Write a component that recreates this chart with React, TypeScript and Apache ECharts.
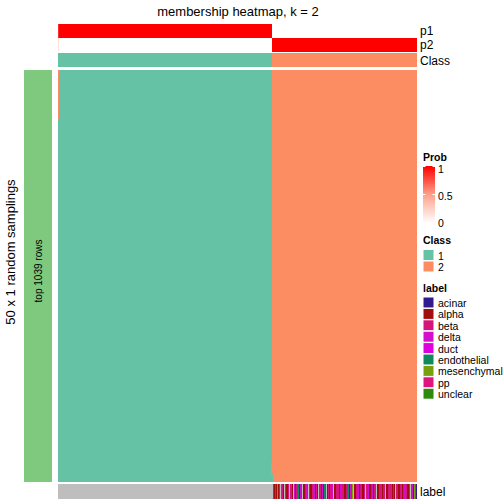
import React, { useEffect, useRef } from "react";
import * as echarts from "echarts";

// ---- data ----
const N_COLS = 359;
const N_ROWS = 1039;
const CLASS_COLORS: Record<number, string> = { 1: "#66C2A5", 2: "#FC8D62" };

// [colStart, colEnd, probability]
const p1Runs = [
  [0, 1, 0.85],
  [1, 214, 1.0],
  [214, 359, 0.0],
];
const p2Runs = [
  [0, 1, 0.15],
  [1, 214, 0.0],
  [214, 359, 1.0],
];
// [colStart, colEnd, class]
const classRuns = [
  [0, 214, 1],
  [214, 359, 2],
];
// [colStart, colEnd, rowStart, rowEnd, class]
const mainBlocks = [
  [0, 214, 0, 1039, 1],
  [214, 359, 0, 1039, 2],
  [0, 1, 0, 126, 2],
  [213, 214, 990, 1020, 2],
  [214, 215, 1016, 1039, 1],
];

const labelNames = ["acinar", "alpha", "beta", "delta", "duct", "endothelial", "mesenchymal", "pp", "unclear"];
const labelColors = ["#311B8C", "#A00E10", "#D4157C", "#D30FCB", "#DF00DF", "#0E8A5E", "#78A00E", "#E0147F", "#2E8A0C"];
const labelCodeMap: Record<string, number> = { a: 0, l: 1, b: 2, d: 3, u: 4, e: 5, m: 6, p: 7, n: 8, g: -1 };
const NA_COLOR = "#BEBEBE";
const labelNACols = 215;
const labelCodes =
  "blblmlbgdblg" +
  "dllbgbplgdlb" +
  "beldbgllbdbg" +
  "bllbddlplgbb" +
  "ldlebglblpbd" +
  "gllbbpldpbbl" +
  "lbbeldbmgllb" +
  "pdlbbllbgbbd" +
  "llbdlbbgllpb" +
  "dlbbgllbdbdl" +
  "blgbbllbnlbd" +
  "pbllbgbdlmna";

const probTicks = ["1", "0.5", "0"];
const classLegend = ["1", "2"];

const FONT = '"Liberation Sans", Arial, Helvetica, sans-serif';

function lerpProb(v: number) {
  return echarts.color.lerp(v, ["#FFFFFF", "#FFA08A", "#FF0000"]);
}

function rectRender(colorFn: (idx: number) => string) {
  return (params: any, api: any) => {
    const x0 = api.value(0), x1 = api.value(1), y0 = api.value(2), y1 = api.value(3);
    const a = api.coord([x0, y0]);
    const b = api.coord([x1, y1]);
    return {
      type: "rect",
      shape: {
        x: Math.min(a[0], b[0]),
        y: Math.min(a[1], b[1]),
        width: Math.abs(b[0] - a[0]),
        height: Math.abs(b[1] - a[1]),
      },
      style: { fill: colorFn(params.dataIndex) },
    };
  };
}

export default function App() {
  const ref = useRef<HTMLDivElement>(null);
  useEffect(() => {
    if (!ref.current) return;
    const chart = echarts.init(ref.current, null, { renderer: "svg" });

    const pData: number[][] = [];
    const pColors: string[] = [];
    p1Runs.forEach((r) => { pData.push([r[0], r[1], 0, 1]); pColors.push(lerpProb(r[2])); });
    p2Runs.forEach((r) => { pData.push([r[0], r[1], 1, 2]); pColors.push(lerpProb(r[2])); });

    const cData = classRuns.map((r) => [r[0], r[1], 0, 1]);
    const cColors = classRuns.map((r) => CLASS_COLORS[r[2]]);

    const mData = mainBlocks.map((r) => [r[0], r[1], r[2], r[3]]);
    const mColors = mainBlocks.map((r) => CLASS_COLORS[r[4]]);

    const lData: number[][] = [[0, labelNACols, 0, 1]];
    const lColors: string[] = [NA_COLOR];
    labelCodes.split("").forEach((c, i) => {
      const code = labelCodeMap[c];
      lData.push([labelNACols + i, labelNACols + i + 1, 0, 1]);
      lColors.push(code < 0 ? NA_COLOR : labelColors[code]);
    });

    const gridDefs = [
      { left: 58, top: 24, width: 359, height: 28, rows: 2, cols: N_COLS },
      { left: 58, top: 53, width: 359, height: 14, rows: 1, cols: N_COLS },
      { left: 58, top: 70, width: 359, height: 412, rows: N_ROWS, cols: N_COLS },
      { left: 58, top: 484, width: 359, height: 15, rows: 1, cols: N_COLS },
      { left: 24, top: 70, width: 28, height: 412, rows: 1, cols: 1 },
    ];

    const graphic: any[] = [];
    const txt = (text: string, x: number, y: number, size: number, opts: any = {}) =>
      graphic.push({
        type: "text",
        x, y,
        z: 100,
        rotation: opts.rotation || 0,
        style: {
          text,
          font: `${opts.bold ? "bold " : ""}${size}px ${FONT}`,
          fill: "#000",
          align: opts.align || "left",
          verticalAlign: "middle",
        },
      });

    txt("membership heatmap, k = 2", 238, 11, 13, { align: "center" });
    txt("p1", 420, 31, 12);
    txt("p2", 420, 45, 12);
    txt("Class", 420, 61, 12);
    txt("label", 420, 492, 12);
    txt("50 x 1 random samplings", 10, 252, 13, { align: "center", rotation: Math.PI / 2 });
    txt("top 1039 rows", 38, 271, 10, { align: "center", rotation: Math.PI / 2 });

    const LS = 10.5;
    // Prob legend
    txt("Prob", 423, 157, LS, { bold: true });
    graphic.push({
      type: "rect",
      z: 100,
      shape: { x: 423, y: 166, width: 12, height: 57 },
      style: {
        fill: new echarts.graphic.LinearGradient(0, 0, 0, 1, [
          { offset: 0, color: "#FF0000" },
          { offset: 0.5, color: "#FFA08A" },
          { offset: 1, color: "#FFFFFF" },
        ]),
      },
    });
    const tickY = [166.5, 194.5, 222.5];
    probTicks.forEach((t, i) => {
      txt(t, 438, tickY[i] + (i === 0 ? 2 : i === 2 ? 0 : 1), LS);
      if (i < 2) {
        graphic.push({ type: "line", z: 101, shape: { x1: 423, y1: tickY[i], x2: 425.5, y2: tickY[i] }, style: { stroke: "#FFFFFF", lineWidth: 1 } });
        graphic.push({ type: "line", z: 101, shape: { x1: 432.5, y1: tickY[i], x2: 435, y2: tickY[i] }, style: { stroke: "#FFFFFF", lineWidth: 1 } });
      }
    });

    // Class legend
    txt("Class", 423, 240, LS, { bold: true });
    classLegend.forEach((c, i) => {
      graphic.push({ type: "rect", z: 100, shape: { x: 423, y: 249.5 + i * 11.5, width: 11, height: 11 }, style: { fill: CLASS_COLORS[i + 1], stroke: "#FFFFFF", lineWidth: 1 } });
      txt(c, 438, 255.5 + i * 11.5, LS);
    });

    // label legend
    txt("label", 423, 288, LS, { bold: true });
    labelNames.forEach((n, i) => {
      const y = 297 + i * 11.4;
      graphic.push({ type: "rect", z: 100, shape: { x: 423, y, width: 11, height: 11 }, style: { fill: labelColors[i], stroke: "#FFFFFF", lineWidth: 1 } });
      txt(n, 438, y + 6, LS);
    });

    const option: any = {
      animation: false,
      backgroundColor: "#FFFFFF",
      grid: gridDefs.map((g) => ({ left: g.left, top: g.top, width: g.width, height: g.height, containLabel: false })),
      xAxis: gridDefs.map((g, i) => ({ type: "value", gridIndex: i, min: 0, max: g.cols, show: false })),
      yAxis: gridDefs.map((g, i) => ({ type: "value", gridIndex: i, min: 0, max: g.rows, inverse: true, show: false })),
      series: [
        { type: "custom", xAxisIndex: 0, yAxisIndex: 0, data: pData, renderItem: rectRender((i) => pColors[i]), silent: true },
        { type: "custom", xAxisIndex: 1, yAxisIndex: 1, data: cData, renderItem: rectRender((i) => cColors[i]), silent: true },
        { type: "custom", xAxisIndex: 2, yAxisIndex: 2, data: mData, renderItem: rectRender((i) => mColors[i]), silent: true },
        { type: "custom", xAxisIndex: 3, yAxisIndex: 3, data: lData, renderItem: rectRender((i) => lColors[i]), silent: true },
        { type: "custom", xAxisIndex: 4, yAxisIndex: 4, data: [[0, 1, 0, 1]], renderItem: rectRender(() => "#7FC97F"), silent: true },
      ],
      graphic,
    };
    chart.setOption(option);
    return () => chart.dispose();
  }, []);
  return <div ref={ref} style={{ position: "fixed", left: 0, top: 0, width: 504, height: 504 }} />;
}
